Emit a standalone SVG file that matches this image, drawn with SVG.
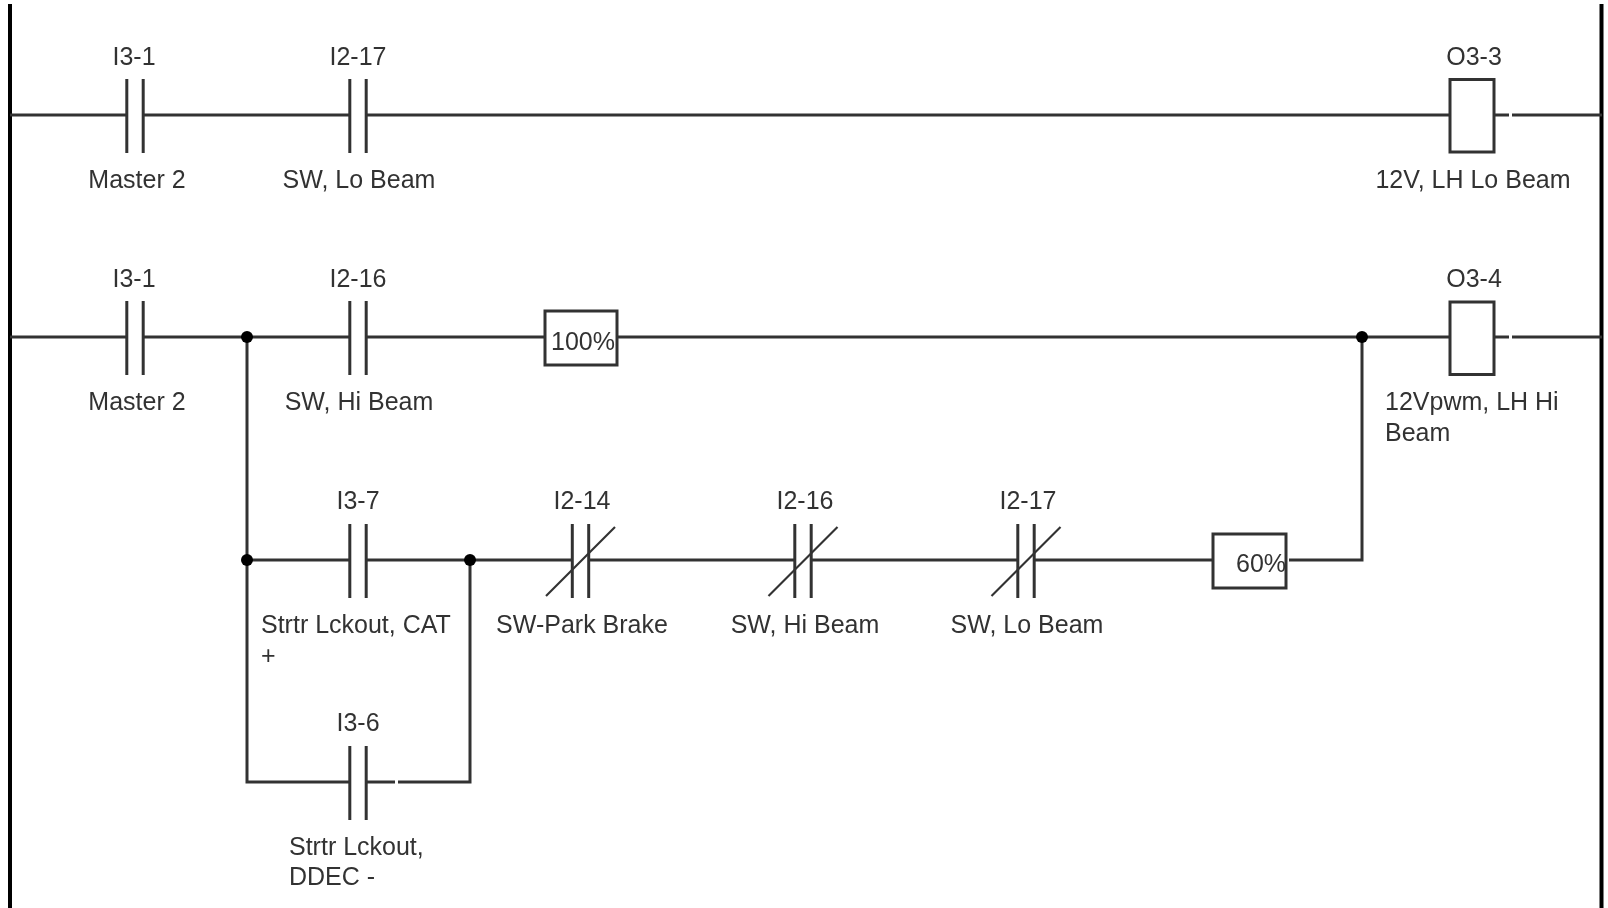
<svg xmlns="http://www.w3.org/2000/svg" width="1608" height="908" viewBox="0 0 1608 908">
<style>
text{font-family:"Liberation Sans",Arial,sans-serif;font-size:25px;fill:#333}
.m{text-anchor:middle}
.w{stroke:#333;stroke-width:3;fill:none}
.c{stroke:#333;stroke-width:3;fill:none}
.b{stroke:#333;stroke-width:3;fill:#fff}
.d{stroke:#333;stroke-width:2.2;fill:none}
.r{stroke:#000;stroke-width:4;fill:none}
.j{fill:#000}
</style>
<defs>
<filter id="soft" x="-2%" y="-2%" width="104%" height="104%"><feGaussianBlur stdDeviation="0.55"/></filter>
<g id="no"><path class="c" d="M-8.200,-37V37M8.200,-37V37"/></g>
<g id="nc"><path class="c" d="M-8.200,-37V37M8.200,-37V37"/><path class="d" d="M-34.500,35L34.500,-34"/></g>
</defs>
<g filter="url(#soft)">
<g id="connectors">
<path class="r" d="M10,4V908M1601.500,4V908"/>
<path class="w" d="M10,115H127M143,115H350M366,115H1450M1494,115H1509M1512,115H1602"/>
<path class="w" d="M10,337H127M143,337H350M366,337H545M617,337H1450M1494,337H1509M1512,337H1602"/>
<path class="w" d="M247,337V782H350M366,782H395M398,782H470V560"/>
<path class="w" d="M247,560H350M366,560H572M589,560H795M811,560H1018M1034,560H1213M1289,560H1362V337"/>
<circle class="j" cx="247" cy="337" r="6"/><circle class="j" cx="1362" cy="337" r="6"/>
<circle class="j" cx="247" cy="560" r="6"/><circle class="j" cx="470" cy="560" r="6"/>
</g>
<g id="c1"><use href="#no" x="135" y="116"/><text class="m" x="134" y="65">I3-1</text><text class="m" x="137" y="188">Master 2</text></g>
<g id="c2"><use href="#no" x="358" y="116"/><text class="m" x="358" y="65">I2-17</text><text class="m" x="359" y="188">SW, Lo Beam</text></g>
<g id="coil1"><rect class="b" x="1450" y="79.500" width="44" height="72.500"/><text class="m" x="1474" y="65">O3-3</text><text class="m" x="1473" y="188">12V, LH Lo Beam</text></g>
<g id="c3"><use href="#no" x="135" y="338"/><text class="m" x="134" y="287">I3-1</text><text class="m" x="137" y="410">Master 2</text></g>
<g id="c4"><use href="#no" x="358" y="338"/><text class="m" x="358" y="287">I2-16</text><text class="m" x="359" y="410">SW, Hi Beam</text></g>
<g id="box100"><rect class="b" x="545" y="311" width="72" height="54"/><text class="m" x="583" y="350">100%</text></g>
<g id="coil2"><rect class="b" x="1450" y="302" width="44" height="72.500"/><text class="m" x="1474" y="287">O3-4</text><text x="1385" y="410">12Vpwm, LH Hi</text><text x="1385" y="441">Beam</text></g>
<g id="c5"><use href="#no" x="358" y="561"/><text class="m" x="358" y="509">I3-7</text><text x="261" y="633">Strtr Lckout, CAT</text><text x="261" y="664">+</text></g>
<g id="c6"><use href="#nc" x="580.500" y="561"/><text class="m" x="582" y="509">I2-14</text><text class="m" x="582" y="633">SW-Park Brake</text></g>
<g id="c7"><use href="#nc" x="803" y="561"/><text class="m" x="805" y="509">I2-16</text><text class="m" x="805" y="633">SW, Hi Beam</text></g>
<g id="c8"><use href="#nc" x="1026" y="561"/><text class="m" x="1028" y="509">I2-17</text><text class="m" x="1027" y="633">SW, Lo Beam</text></g>
<g id="box60"><rect class="b" x="1213" y="534" width="73" height="54"/><text x="1236" y="572">60%</text></g>
<g id="c9"><use href="#no" x="358" y="783"/><text class="m" x="358" y="731">I3-6</text><text x="289" y="855">Strtr Lckout,</text><text x="289" y="885">DDEC -</text></g>
</g>
</svg>
